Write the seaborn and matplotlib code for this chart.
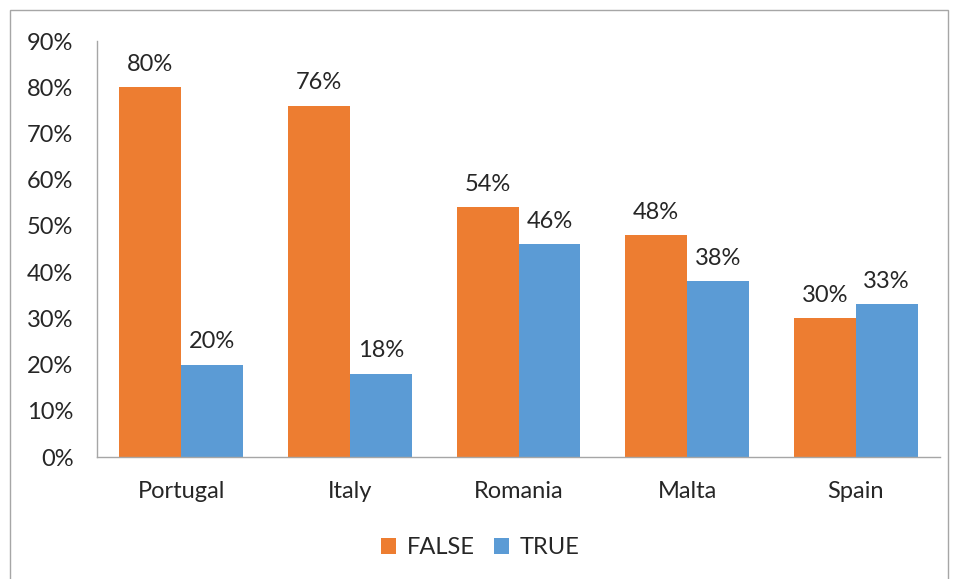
import pandas as pd
import matplotlib.pyplot as plt
import seaborn as sns
from matplotlib.patches import Rectangle

countries = ['Portugal', 'Italy', 'Romania', 'Malta', 'Spain']
false_vals = [80, 76, 54, 48, 30]
true_vals = [20, 18, 46, 38, 33]

df = pd.DataFrame({
    'country': countries * 2,
    'value': false_vals + true_vals,
    'group': ['FALSE'] * 5 + ['TRUE'] * 5,
})

sns.set_style('white')
plt.rcParams['font.family'] = ['Lato', 'DejaVu Sans']

fig = plt.figure(figsize=(9.6, 5.79), dpi=100)
ax = fig.add_axes([97 / 960, 1 - 457 / 579, (940 - 97) / 960, (457 - 41) / 579])

sns.barplot(data=df, x='country', y='value', hue='group',
            palette={'FALSE': '#ED7D31', 'TRUE': '#5B9BD5'},
            width=0.735, saturation=1, linewidth=0, ax=ax, legend=True)

for c in ax.containers:
    ax.bar_label(c, labels=[f'{v:.0f}%' for v in c.datavalues],
                 padding=9, fontsize=17, color='#262626')

ax.set_ylim(0, 90)
ax.set_yticks(range(0, 91, 10))
ax.set_yticklabels([f'{t}%' for t in range(0, 91, 10)], fontsize=17, color='#262626')
ax.tick_params(axis='x', labelsize=17, colors='#262626', pad=17, length=0)
ax.tick_params(axis='y', pad=17, length=0)
ax.set_xlabel('')
ax.set_ylabel('')
ax.set_xlim(-0.5, 4.5)
sns.despine(ax=ax, top=True, right=True)
for s in ['left', 'bottom']:
    ax.spines[s].set_color('#A6A6A6')
    ax.spines[s].set_linewidth(1)

handles, labels = ax.get_legend_handles_labels()
ax.legend(handles, labels, loc='center', bbox_to_anchor=(0.5, (579 - 548) / 579),
          bbox_transform=fig.transFigure, ncol=2, frameon=False, fontsize=17,
          handlelength=0.65, handleheight=0.65, handletextpad=0.45, columnspacing=0.8,
          labelcolor='#262626')

fig.patches.append(Rectangle((10 / 960, -0.05), (948 - 10) / 960, 1 - 10 / 579 + 0.05,
                             transform=fig.transFigure, fill=False,
                             edgecolor='#A6A6A6', linewidth=1))

fig.savefig('out.png', dpi=100)
